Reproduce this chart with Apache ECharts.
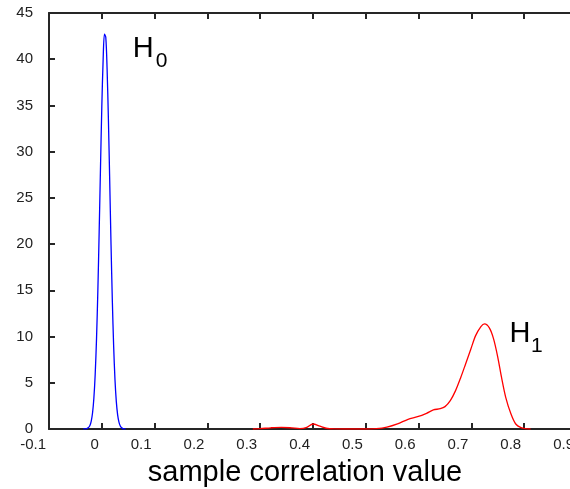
<!DOCTYPE html>
<html><head><meta charset="utf-8">
<script src="https://cdn.jsdelivr.net/npm/echarts@6/dist/echarts.min.js"></script>
<style>html,body{margin:0;padding:0;background:#fff}#c{width:570px;height:489px}</style>
</head><body><div id="c"></div>
<script>
// H0 density (blue)
const h0X = [-0.035,-0.0325,-0.03,-0.0275,-0.025,-0.0225,-0.02,-0.0175,-0.015,-0.0125,-0.01,-0.0075,-0.005,-0.0025,0,0.0025,0.005,0.0075,0.01,0.0125,0.015,0.0175,0.02,0.0225,0.025,0.0275,0.03,0.0325,0.035,0.0375,0.04,0.0425,0.045];
const h0Y = [0,0.01,0.02,0.07,0.17,0.39,0.86,1.76,3.35,5.92,9.75,14.9,21.3,28.2,34.8,39.9,42.7,42.4,39.0,33.5,26.8,19.9,13.8,8.86,5.31,2.96,1.53,0.74,0.33,0.14,0.05,0.02,0];
// H1 density (red)
const h1X = [0.286,0.30,0.32,0.34,0.36,0.375,0.387,0.40,0.413,0.425,0.44,0.46,0.50,0.52,0.54,0.56,0.58,0.598,0.615,0.628,0.641,0.650,0.660,0.670,0.680,0.689,0.699,0.708,0.718,0.725,0.734,0.742,0.750,0.757,0.765,0.775,0.784,0.794,0.802,0.812];
const h1Y = [0,0.04,0.13,0.18,0.12,0.05,0.15,0.54,0.3,0.08,0.01,0,0,0.03,0.2,0.55,1.05,1.33,1.7,2.06,2.2,2.42,3.07,4.15,5.6,7.04,8.66,10.1,11.08,11.37,10.94,9.75,7.76,5.6,3.43,1.62,0.54,0.14,0.03,0];
const xRange = [-0.1, 0.9];
const yRange = [0, 45];
const xTitle = 'sample correlation value';

const chart = echarts.init(document.getElementById('c'), null, {renderer: 'canvas'});
const axisCol = '#262626';
const zip = (a, b) => a.map((v, i) => [v, b[i]]);
const xCommon = {
  type: 'value', min: xRange[0], max: xRange[1], interval: 0.1,
  axisLine: {show: true, onZero: false, lineStyle: {color: axisCol, width: 2}},
  axisTick: {show: true, inside: true, length: 6, lineStyle: {color: axisCol, width: 2}},
  splitLine: {show: false}
};
const yCommon = {
  type: 'value', min: yRange[0], max: yRange[1], interval: 5,
  axisLine: {show: true, onZero: false, lineStyle: {color: axisCol, width: 2}},
  axisTick: {show: true, inside: true, length: 6, lineStyle: {color: axisCol, width: 2}},
  splitLine: {show: false}
};
chart.setOption({
  animation: false,
  backgroundColor: '#fff',
  grid: {left: 49, top: 13, width: 528, height: 416, containLabel: false, outerBoundsMode: 'none'},
  xAxis: [
    Object.assign({}, xCommon, {position: 'bottom',
      axisLabel: {show: true, margin: 8, color: '#222', fontFamily: 'Liberation Sans', fontSize: 15,
        align: 'right', padding: [0, 3, 0, 0],
        formatter: v => String(Math.round(v * 10) / 10)}}),
    Object.assign({}, xCommon, {position: 'top', axisLabel: {show: false}})
  ],
  yAxis: [
    Object.assign({}, yCommon, {position: 'left',
      axisLabel: {show: true, margin: 16, color: '#222', fontFamily: 'Liberation Sans', fontSize: 15}}),
    Object.assign({}, yCommon, {position: 'right', axisLabel: {show: false}})
  ],
  series: [
    {type: 'line', xAxisIndex: 0, yAxisIndex: 0, data: zip(h0X, h0Y), smooth: 0.3,
     showSymbol: false, lineStyle: {color: '#0000ff', width: 1.3}, z: 5},
    {type: 'line', xAxisIndex: 0, yAxisIndex: 0, data: zip(h1X, h1Y), smooth: 0.3,
     showSymbol: false, lineStyle: {color: '#ff0000', width: 1.3}, z: 5}
  ],
  graphic: [
    {type: 'text', x: 305, y: 473, style: {text: xTitle, fill: '#000',
      font: '29px "Liberation Sans", Arial, sans-serif', textAlign: 'center', textVerticalAlign: 'middle'}},
    {type: 'text', x: 132.7, y: 49, style: {text: 'H', fill: '#000',
      font: '29px "Liberation Sans", Arial, sans-serif', textAlign: 'left', textVerticalAlign: 'middle'}},
    {type: 'text', x: 155.7, y: 61, style: {text: '0', fill: '#000',
      font: '21px "Liberation Sans", Arial, sans-serif', textAlign: 'left', textVerticalAlign: 'middle'}},
    {type: 'text', x: 509.5, y: 334, style: {text: 'H', fill: '#000',
      font: '29px "Liberation Sans", Arial, sans-serif', textAlign: 'left', textVerticalAlign: 'middle'}},
    {type: 'text', x: 531, y: 346, style: {text: '1', fill: '#000',
      font: '21px "Liberation Sans", Arial, sans-serif', textAlign: 'left', textVerticalAlign: 'middle'}}
  ]
});
</script>
</body></html>
